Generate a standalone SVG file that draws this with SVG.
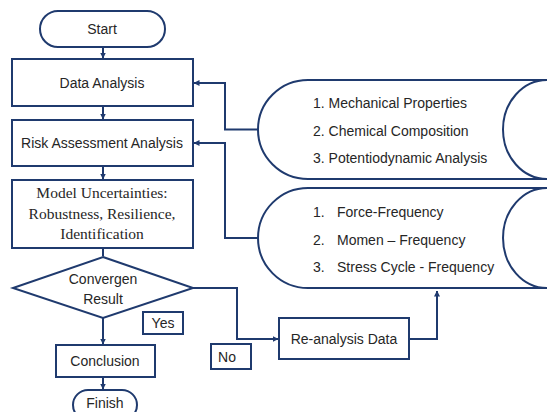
<svg xmlns="http://www.w3.org/2000/svg" width="547" height="412" viewBox="0 0 547 412">
<defs>
<style>
.s{fill:#fff;stroke:#1f3a6e;stroke-width:2}
.c{fill:none;stroke:#1f3a6e;stroke-width:2}
.t{font-family:"Liberation Sans",Arial,sans-serif;font-size:14px;fill:#262626}
.m{text-anchor:middle}
.sr{font-family:"Liberation Serif","Times New Roman",serif;font-size:15.5px;fill:#262626;text-anchor:middle}
</style>
<marker id="a" viewBox="0 0 6 6" refX="5.5" refY="3" markerWidth="6" markerHeight="6" markerUnits="userSpaceOnUse" orient="auto">
<path d="M0,0 L6,3 L0,6 z" fill="#1f3a6e"/>
</marker>
</defs>
<rect width="547" height="412" fill="#fff"/>
<g id="connectors">
<path class="c" d="M103,47 V58" marker-end="url(#a)"/>
<path class="c" d="M103,106 V119" marker-end="url(#a)"/>
<path class="c" d="M103,166 V179" marker-end="url(#a)"/>
<path class="c" d="M103,248 V256"/>
<path class="c" d="M103,318 V344" marker-end="url(#a)"/>
<path class="c" d="M103,377 V389" marker-end="url(#a)"/>
<path class="c" d="M193,288 H237 V339 H278" marker-end="url(#a)"/>
<path class="c" d="M409,339 H437 V291" marker-end="url(#a)"/>
<path class="c" d="M258,129.5 H225 V83 H194" marker-end="url(#a)"/>
<path class="c" d="M258,238 H225 V143 H194" marker-end="url(#a)"/>
</g>
<g id="start">
<rect class="s" x="40" y="11" width="125" height="36" rx="18"/>
<text class="t m" x="102" y="34" font-size="14.5">Start</text>
</g>
<g id="data-analysis">
<rect class="s" x="12" y="59" width="181" height="47"/>
<text class="t m" x="102" y="88">Data Analysis</text>
</g>
<g id="risk">
<rect class="s" x="12" y="120" width="181" height="46"/>
<text class="t m" x="102" y="148" font-size="13.7">Risk Assessment Analysis</text>
</g>
<g id="model">
<rect class="s" x="12" y="180" width="181" height="68"/>
<text class="sr" x="102" y="198">Model Uncertainties:</text>
<text class="sr" x="102" y="219">Robustness, Resilience,</text>
<text class="sr" x="102" y="239">Identification</text>
</g>
<g id="decision">
<polygon class="s" points="103,257 193,288 103,318 13,288"/>
<text class="t m" x="103" y="284">Convergen</text>
<text class="t m" x="103" y="304">Result</text>
</g>
<g id="yes">
<rect class="s" x="143" y="312" width="40" height="22"/>
<text class="t m" x="163" y="328">Yes</text>
</g>
<g id="no">
<rect class="s" x="211" y="344" width="40" height="25"/>
<text class="t m" x="227" y="362">No</text>
</g>
<g id="conclusion">
<rect class="s" x="56" y="345" width="99" height="32"/>
<text class="t m" x="105" y="366">Conclusion</text>
</g>
<g id="finish">
<rect class="s" x="73" y="390" width="64" height="30" rx="15"/>
<text class="t m" x="105" y="408">Finish</text>
</g>
<g id="reanalysis">
<rect class="s" x="279" y="318" width="130" height="41"/>
<text class="t m" x="344" y="344">Re-analysis Data</text>
</g>
<g id="store1">
<path class="s" d="M560,80 H308 A50,49.5 0 0 0 308,179 H560"/>
<path class="c" d="M547,80 A44,49.5 0 0 0 547,179"/>
<text class="t" x="313" y="108">1. Mechanical Properties</text>
<text class="t" x="313" y="136">2. Chemical Composition</text>
<text class="t" x="313" y="163">3. Potentiodynamic Analysis</text>
</g>
<g id="store2">
<path class="s" d="M560,188 H308 A50,50 0 0 0 308,288 H560"/>
<path class="c" d="M547,188 A44,50 0 0 0 547,288"/>
<text class="t" x="313" y="217">1.</text>
<text class="t" x="337" y="217">Force-Frequency</text>
<text class="t" x="313" y="245">2.</text>
<text class="t" x="337" y="245">Momen – Frequency</text>
<text class="t" x="313" y="272">3.</text>
<text class="t" x="337" y="272">Stress Cycle - Frequency</text>
</g>
</svg>
